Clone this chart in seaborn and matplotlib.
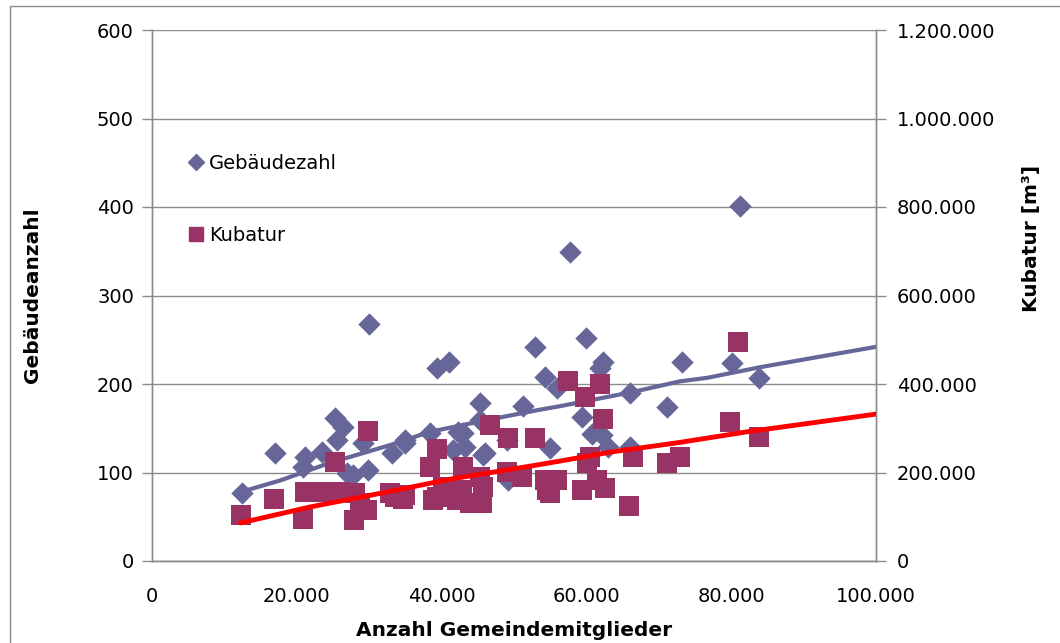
import matplotlib
matplotlib.use("Agg")
from matplotlib import pyplot as plt
from matplotlib.lines import Line2D
from matplotlib.patches import Rectangle
from matplotlib.ticker import FuncFormatter, MultipleLocator
import pandas as pd
import seaborn as sns

# Gebaeudezahl (left axis)
geb_x = [12400, 17000, 21100, 20900, 23500, 25300, 26400, 25600, 26900, 29100,
         29800, 27800, 30000, 33100, 34900, 38400, 39400, 41000, 43000, 41600,
         43200, 46000, 45300, 45300, 51200, 52900, 54300, 55900, 57700, 59400,
         59900, 60800, 62200, 61900, 62300, 55000, 49200, 66000, 66000, 63000,
         71100, 73200, 80100, 81200, 83800, 34900, 42300, 45700, 49000]
geb_y = [77, 122, 117, 106, 123, 162, 151, 137, 99, 133,
         103, 97, 268, 122, 133, 145, 218, 225, 145, 125,
         129, 122, 178, 159, 175, 242, 208, 195, 349, 163,
         252, 143, 142, 218, 225, 128, 92, 190, 129, 129,
         174, 225, 224, 401, 207, 137, 146, 120, 137]

# Kubatur (right axis, m3)
kub_x = [12300, 16900, 20900, 21100, 23500, 25300, 26000, 28000, 28700, 27900,
         29800, 29700, 33600, 34900, 39400, 38400, 39400, 43000, 45300, 49000,
         51100, 55900, 54600, 59400, 60500, 60100, 66400, 61500, 62600, 65900,
         34700, 43900, 45600, 40200, 42800, 45700, 57500, 61900, 59800, 62300,
         46700, 49200, 52900, 80900, 79800, 83800, 72900, 71100, 32900, 38800,
         42100, 54300, 55000]
kub_y = [104000, 140000, 95000, 156000, 156000, 224000, 156000, 154000, 131000, 93000,
         294000, 115000, 145000, 149000, 252000, 212000, 145000, 212000, 190000, 201000,
         190000, 183000, 160000, 160000, 235000, 221000, 235000, 183000, 165000, 124000,
         140000, 131000, 131000, 167000, 160000, 167000, 407000, 400000, 371000, 321000,
         307000, 278000, 278000, 495000, 314000, 280000, 235000, 221000, 154000, 138000,
         138000, 183000, 154000]

# trend lines
trend_geb_x = [13100, 17700, 24600, 32900, 38400, 46700, 53600, 56400, 66400,
               72900, 76700, 82200, 84000, 100000]
trend_geb_y = [80, 91, 111, 131, 146, 160, 171, 175, 191, 203, 207, 216, 219, 242]
trend_kub_x = [12200, 21800, 32500, 41200, 53200, 56400, 63300, 72900, 82200, 100000]
trend_kub_y = [86000, 122000, 156000, 185000, 217000, 226000, 246000, 268000,
               292000, 332000]

geb_color = "#666699"
kub_color = "#993366"
grid_color = "#8c8c8c"

sns.set_style("white")
plt.rcParams['font.family'] = ['DejaVu Sans']
plt.rcParams['text.color'] = 'black'
plt.rcParams['axes.labelcolor'] = 'black'

fig = plt.figure(figsize=(10.6, 6.43), dpi=100)
ax = fig.add_axes([152 / 1060, 1 - 561 / 643, 724 / 1060, 531 / 643])
ax2 = ax.twinx()

geb = pd.DataFrame({'x': geb_x, 'y': geb_y})
kub = pd.DataFrame({'x': kub_x, 'y': kub_y})

sns.scatterplot(data=geb, x='x', y='y', ax=ax, marker='D', s=130,
                color=geb_color, linewidth=0, zorder=3)
sns.lineplot(x=trend_geb_x, y=trend_geb_y, ax=ax, color=geb_color,
             linewidth=3, zorder=4)
sns.scatterplot(data=kub, x='x', y='y', ax=ax2, marker='s', s=190,
                color=kub_color, linewidth=0, zorder=3)
sns.lineplot(x=trend_kub_x, y=trend_kub_y, ax=ax2, color="#ff0000",
             linewidth=3.5, zorder=4)

ax.set_xlim(0, 100000)
ax.set_ylim(0, 600)
ax2.set_ylim(0, 1200000)
ax.xaxis.set_major_locator(MultipleLocator(20000))
ax.yaxis.set_major_locator(MultipleLocator(100))
ax2.yaxis.set_major_locator(MultipleLocator(200000))

de_fmt = FuncFormatter(lambda v, p: f"{v:,.0f}".replace(",", "."))
ax.xaxis.set_major_formatter(de_fmt)
ax2.yaxis.set_major_formatter(de_fmt)

ax.yaxis.grid(True, color=grid_color, linewidth=1)
ax.set_axisbelow(True)

for a in (ax, ax2):
    a.spines['top'].set_visible(False)
    for s in ('left', 'right', 'bottom'):
        a.spines[s].set_color(grid_color)
        a.spines[s].set_linewidth(1)
    a.tick_params(colors=grid_color, labelcolor='black', labelsize=14,
                  length=7, width=1, direction='out')
ax.tick_params(axis='x', pad=12)
ax.tick_params(axis='y', pad=6)
ax2.tick_params(axis='y', pad=8)

ax.set_xlabel("Anzahl Gemeindemitglieder", fontsize=14.5, fontweight='bold')
ax.set_ylabel("Gebäudeanzahl", fontsize=14.5, fontweight='bold')
ax2.set_ylabel("Kubatur [m³]", fontsize=14.5, fontweight='bold')
ax.xaxis.set_label_coords(0.5, -0.113)
ax.yaxis.set_label_coords(-0.152, 0.5)
ax2.yaxis.set_label_coords(1.2017, 0.608)

handles = [Line2D([], [], marker='D', linestyle='none', color=geb_color,
                  markersize=8),
           Line2D([], [], marker='s', linestyle='none', color=kub_color,
                  markersize=10)]
ax.legend(handles, ["Gebäudezahl", "Kubatur"], loc='upper left',
          bbox_to_anchor=(0.02, 0.80), frameon=False, fontsize=14,
          labelspacing=2.75, handletextpad=0.1, handlelength=1.2)

# outer chart frame
fig.patches.append(Rectangle((10 / 1060, -0.05), 1.1, 1 - 6 / 643 + 0.05,
                             transform=fig.transFigure, fill=False,
                             edgecolor=grid_color, linewidth=1))

fig.savefig("out.png", dpi=100)
